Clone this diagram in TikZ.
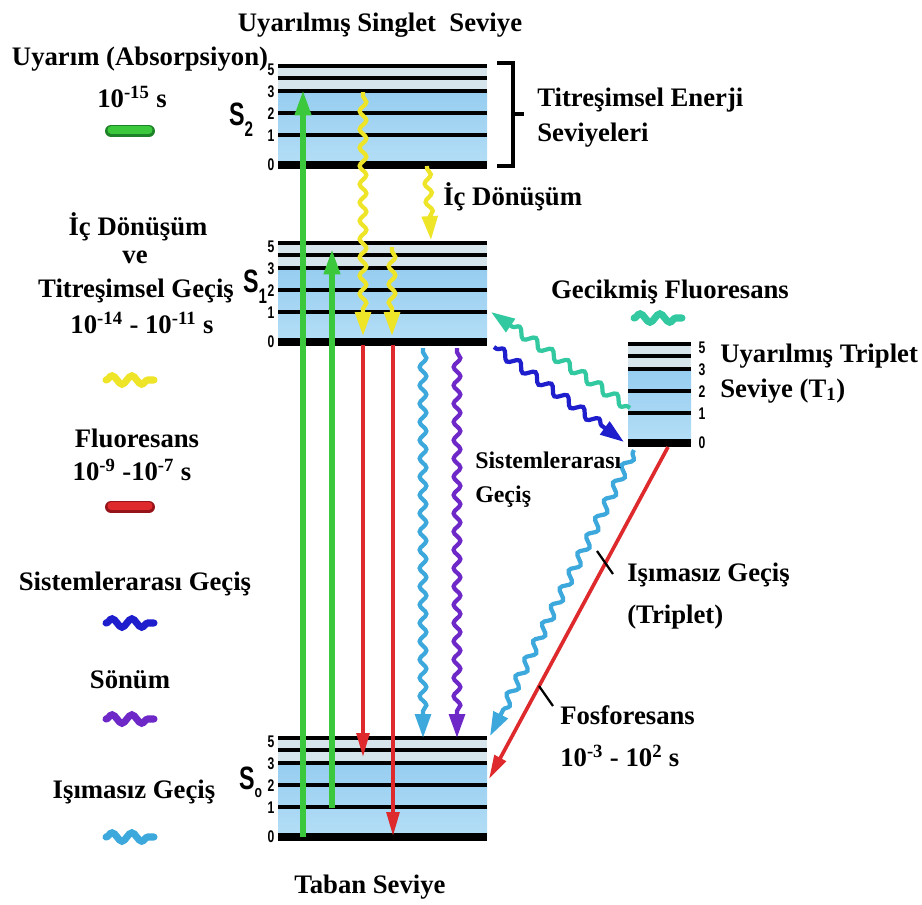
\documentclass[tikz,border=0pt]{standalone}
\usepackage{fontspec}
\setmainfont{Liberation Serif}[BoldFont={Liberation Serif Bold}]
\newfontfamily\sayifont{Liberation Sans}[BoldFont={Liberation Sans Bold}]
\usetikzlibrary{arrows.meta,decorations.pathmorphing}
\definecolor{yesil}{RGB}{60,200,60}
\definecolor{koyuyesil}{RGB}{30,130,40}
\definecolor{sari}{RGB}{238,228,40}
\definecolor{kirmizi}{RGB}{222,42,45}
\definecolor{koyukirmizi}{RGB}{150,20,25}
\definecolor{lacivert}{RGB}{30,30,205}
\definecolor{mor}{RGB}{110,40,200}
\definecolor{gok}{RGB}{60,168,220}
\definecolor{turkuaz}{RGB}{50,200,160}
\definecolor{dolgua}{RGB}{150,205,240}
\definecolor{dolgub}{RGB}{180,222,246}
\definecolor{acik}{RGB}{214,228,236}
\tikzset{
  seviye/.style={line width=3.4pt},
  tabancizgi/.style={line width=5.4pt},
  yazi/.style={font=\bfseries\fontsize{19}{22}\selectfont, anchor=base, inner sep=0pt},
  rakam/.style={font=\sayifont\bfseries\fontsize{12}{12}\selectfont, xscale=0.72, inner sep=0pt},
  sharf/.style={font=\sayifont\bfseries\fontsize{23}{23}\selectfont, xscale=0.72, anchor=base west, inner sep=0pt},
  sogurma/.style={yesil, line width=4pt, -{Triangle[length=18pt,width=11pt]}},
  isik/.style={kirmizi, line width=2.6pt, -{Triangle[length=17pt,width=9pt]}},
  dalga/.style={decorate, decoration={snake, amplitude=2.4pt, segment length=13pt, pre length=3pt, post length=16pt},
    line width=3pt, -{Triangle[length=17pt,width=11pt]}},
  egik/.style={dalga, decoration={snake, amplitude=3pt, segment length=14pt, pre length=2pt, post length=16pt}},
  isaret/.style={decorate, decoration={snake, amplitude=3pt, segment length=14pt}, line width=5pt, line cap=round},
  hap/.style={line width=8.5pt, line cap=round},
  cubuk/.style={line width=1.6pt},
}
\newcommand{\blok}[3]{%
  \fill[acik] (#1,#3-99) rectangle (#2,#3-74);
  \shade[top color=dolgua, bottom color=dolgub] (#1,#3-74) rectangle (#2,#3);
  \foreach \d in {30,52,74,87,99}{\draw[seviye] (#1,#3-\d) -- (#2,#3-\d);}
  \draw[tabancizgi] (#1,#3) -- (#2,#3);}
\newcommand{\rakamlar}[3]{%
  \foreach \n/\d in {0/0,1/29,2/51,3/73,5/95}{\node[rakam] (#1-\n) at (#2,#3-\d) {\n};}}

\begin{document}
\begin{tikzpicture}[x=0.025cm, y=-0.025cm]
    \fill[white] (0,0) rectangle (922,904);
    \useasboundingbox (0,0) rectangle (922,904);
    \blok{278}{487}{165}
    \blok{278}{487}{342}
    \blok{278}{487}{837}
    \blok{628}{691}{443}
    \rakamlar{s2}{271}{165}
    \rakamlar{s1}{271}{342}
    \rakamlar{s0}{271}{837}
    \rakamlar{t1}{702}{443}
    \draw[line width=2.2pt] (497,63) -- (513,63) -- (513,166) -- (497,166);
    \draw[line width=2.2pt] (513,114) -- (524,114);

    \coordinate (g1a) at (303,837); \coordinate (g1b) at (303,90);
    \coordinate (g2a) at (332,808); \coordinate (g2b) at (332,249);
    \coordinate (y1a) at (363,92);  \coordinate (y1b) at (363,336);
    \coordinate (y2a) at (392,247); \coordinate (y2b) at (392,336);
    \coordinate (y3a) at (427,166); \coordinate (y3b) at (431,240);
    \coordinate (r1a) at (363,345); \coordinate (r1b) at (363,757);
    \coordinate (r2a) at (393,345); \coordinate (r2b) at (393,836);
    \coordinate (c1a) at (423,348); \coordinate (c1b) at (423,738);
    \coordinate (p1a) at (457,348); \coordinate (p1b) at (457,738);
    \coordinate (t1a) at (630,408); \coordinate (t1b) at (491,312);
    \coordinate (b1a) at (494,347); \coordinate (b1b) at (624,442);
    \coordinate (c2a) at (634,450); \coordinate (c2b) at (490,736);
    \coordinate (r3a) at (668,447); \coordinate (r3b) at (489,779);
    \coordinate (k1a) at (597,551); \coordinate (k1b) at (613,574);
    \coordinate (k2a) at (539,686); \coordinate (k2b) at (553,706);

    \draw[sogurma] (g1a) -- (g1b);
    \draw[sogurma] (g2a) -- (g2b);
    \draw[isik] (r1a) -- (r1b);
    \draw[isik] (r2a) -- (r2b);
    \draw[dalga, sari] (y1a) -- (y1b);
    \draw[dalga, sari] (y2a) -- (y2b);
    \draw[dalga, sari, decoration={snake, amplitude=2.4pt, segment length=13pt, pre length=2pt, post length=15pt}] (y3a) -- (y3b);
    \draw[dalga, gok] (c1a) -- (c1b);
    \draw[dalga, mor] (p1a) -- (p1b);
    \draw[egik, turkuaz] (t1a) -- (t1b);
    \draw[egik, lacivert] (b1a) -- (b1b);
    \draw[egik, gok] (c2a) -- (c2b);
    \draw[isik] (r3a) -- (r3b);
    \draw[cubuk] (k1a) -- (k1b);
    \draw[cubuk] (k2a) -- (k2b);

    \draw[hap, koyuyesil] (111,131) -- (149,131);
    \draw[line width=5pt, line cap=round, yesil] (111,130) -- (149,130);
    \draw[isaret, sari] (106,380) -- (154,380);
    \draw[hap, koyukirmizi] (111,507) -- (149,507);
    \draw[line width=5pt, line cap=round, kirmizi] (111,506) -- (149,506);
    \draw[isaret, lacivert] (106,623) -- (154,623);
    \draw[isaret, mor] (106,719) -- (154,719);
    \draw[isaret, gok] (106,837) -- (154,837);
    \draw[isaret, turkuaz] (634,318) -- (682,318);

    \node[sharf] (s2h) at (229,125) {S\raisebox{-8pt}{\fontsize{15}{15}\selectfont 2}};
    \node[sharf] (s1h) at (243,292) {S\raisebox{-8pt}{\fontsize{15}{15}\selectfont 1}};
    \node[sharf] (s0h) at (239,789) {S\raisebox{-6pt}{\fontsize{12}{12}\selectfont o}};

    \node[yazi] (baslik) at (380,31) {Uyarılmış Singlet\ \ Seviye};
    \node[yazi] (uyarim) at (140,65) {Uyarım (Absorpsiyon)};
    \node[yazi] (uyarimt) at (132,107) {10\textsuperscript{-15} s};
    \node[yazi] (icd1) at (138,235) {İç Dönüşüm};
    \node[yazi] (ve) at (135,263) {ve};
    \node[yazi] (titgec) at (136,297) {Titreşimsel Geçiş};
    \node[yazi] (titt) at (142,333) {10\textsuperscript{-14} - 10\textsuperscript{-11} s};
    \node[yazi] (flu) at (137,447) {Fluoresans};
    \node[yazi] (flut) at (132,480) {10\textsuperscript{-9} -10\textsuperscript{-7} s};
    \node[yazi] (sisgec) at (135,590) {Sistemlerarası Geçiş};
    \node[yazi] (sonum) at (130,688) {Sönüm};
    \node[yazi] (isim) at (134,798) {Işımasız Geçiş};
    \node[yazi] (tabanyazi) at (370,893) {Taban Seviye};
    \node[yazi, anchor=base west] (titen) at (537,106) {Titreşimsel Enerji};
    \node[yazi, anchor=base west] (sevler) at (537,141) {Seviyeleri};
    \node[yazi, anchor=base west] (icd2) at (443,205) {İç Dönüşüm};
    \node[yazi] (gecflu) at (670,298) {Gecikmiş Fluoresans};
    \node[yazi, anchor=base west] (utrip) at (720,362) {Uyarılmış Triplet};
    \node[yazi, anchor=base west] (strip) at (720,397) {Seviye (T\textsubscript{1})};
    \node[yazi, anchor=base west, font=\bfseries\fontsize{17}{20}\selectfont] (sis2) at (475,468) {Sistemlerarası};
    \node[yazi, anchor=base west, font=\bfseries\fontsize{17}{20}\selectfont] (gec2) at (475,502) {Geçiş};
    \node[yazi, anchor=base west] (isim2) at (627,581) {Işımasız Geçiş};
    \node[yazi, anchor=base west] (trip) at (627,623) {(Triplet)};
    \node[yazi, anchor=base west] (fosfor) at (560,724) {Fosforesans};
    \node[yazi, anchor=base west] (fost) at (560,766) {10\textsuperscript{-3} - 10\textsuperscript{2} s};
\end{tikzpicture}
\end{document}
